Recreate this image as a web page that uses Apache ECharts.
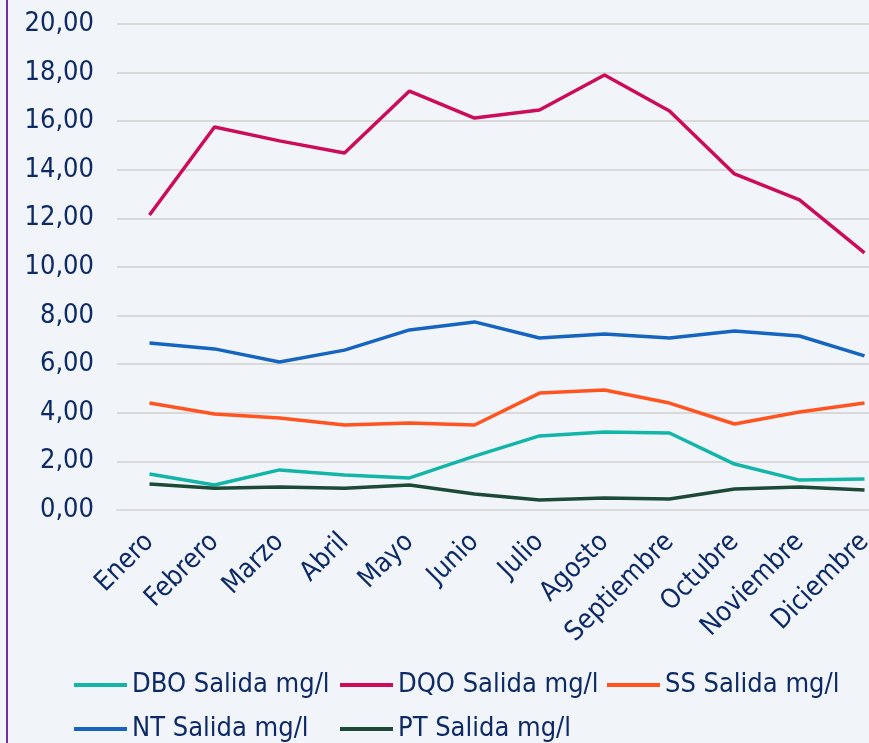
<!DOCTYPE html>
<html>
<head>
<meta charset="utf-8">
<script src="https://cdn.jsdelivr.net/npm/echarts@6/dist/echarts.min.js"></script>
<style>
  html, body { margin: 0; padding: 0; background: #f1f5f9; }
  #chart { width: 869px; height: 743px; }
</style>
</head>
<body>
<div id="chart"></div>
<script>
const months = ['Enero', 'Febrero', 'Marzo', 'Abril', 'Mayo', 'Junio', 'Julio', 'Agosto', 'Septiembre', 'Octubre', 'Noviembre', 'Diciembre']

const dbo = [1.48, 1.03, 1.65, 1.44, 1.32, 2.22, 3.05, 3.21, 3.17, 1.89, 1.23, 1.28]
const dqo = [12.14, 15.76, 15.19, 14.69, 17.24, 16.13, 16.46, 17.9, 16.42, 13.83, 12.76, 10.58]
const ss = [4.40, 3.95, 3.79, 3.50, 3.58, 3.50, 4.81, 4.94, 4.40, 3.54, 4.03, 4.40]
const nt = [6.87, 6.63, 6.09, 6.58, 7.41, 7.74, 7.08, 7.24, 7.08, 7.37, 7.16, 6.34]
const pt = [1.07, 0.90, 0.95, 0.90, 1.03, 0.66, 0.41, 0.49, 0.45, 0.86, 0.95, 0.82]

const seriesNames = ['DBO Salida mg/l', 'DQO Salida mg/l', 'SS Salida mg/l', 'NT Salida mg/l', 'PT Salida mg/l']
const seriesColors = ['#13b5a9', '#cc0c5a', '#ff5420', '#1565c0', '#1c4a36']
const seriesData = [dbo, dqo, ss, nt, pt]

const textColor = '#0d2a66'
const fontFamily = '"DejaVu Sans Condensed", "DejaVu Sans", sans-serif'

const legendBase = {
  orient: 'vertical',
  top: 671,
  padding: 0,
  icon: 'rect',
  itemWidth: 53,
  itemHeight: 4,
  itemGap: 16,
  textStyle: { color: textColor, fontSize: 27, fontFamily: fontFamily, lineHeight: 28 }
}

const myChart = echarts.init(document.getElementById('chart'))
const option = {
  backgroundColor: '#f1f5f9',
  animation: false,
  graphic: [
    { type: 'line', shape: { x1: 7, y1: 0, x2: 7, y2: 743 }, style: { stroke: '#7030a0', lineWidth: 2 } }
  ],
  grid: { left: 117, top: 24, width: 780, bottom: 233, containLabel: false, outerBoundsMode: 'none' },
  legend: [
    Object.assign({ left: 74, data: [seriesNames[0], seriesNames[3]] }, legendBase),
    Object.assign({ left: 340, data: [seriesNames[1], seriesNames[4]] }, legendBase),
    Object.assign({ left: 607, data: [seriesNames[2]] }, legendBase)
  ],
  xAxis: {
    type: 'category',
    data: months,
    boundaryGap: true,
    axisLine: { show: true, lineStyle: { color: '#d9d9d9', width: 2 } },
    axisTick: { show: false },
    axisLabel: { rotate: 45, margin: 28, interval: 0, color: textColor, fontSize: 27, fontFamily: fontFamily }
  },
  yAxis: {
    type: 'value',
    min: 0,
    max: 20,
    interval: 2,
    axisLine: { show: false },
    axisTick: { show: false },
    splitLine: { lineStyle: { color: '#d9d9d9', width: 2 } },
    axisLabel: {
      margin: 23,
      color: textColor,
      fontSize: 27,
      fontFamily: fontFamily,
      formatter: function (v) { return v.toFixed(2).replace('.', ',') }
    }
  },
  series: seriesNames.map(function (name, i) {
    return {
      name: name,
      type: 'line',
      data: seriesData[i],
      symbol: 'none',
      color: seriesColors[i],
      lineStyle: { width: 3.5, color: seriesColors[i] }
    }
  })
}
myChart.setOption(option)
</script>
</body>
</html>
